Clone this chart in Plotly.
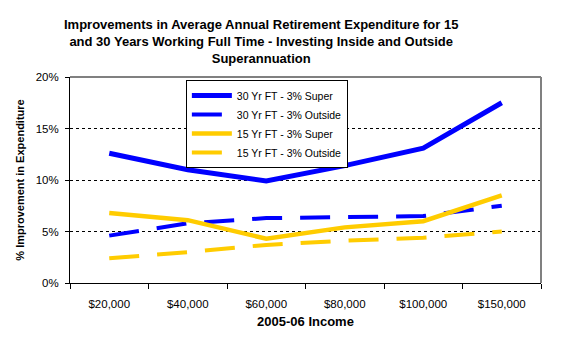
import plotly.graph_objects as go

categories = ["$20,000", "$40,000", "$60,000", "$80,000", "$100,000", "$150,000"]
yr30_super = [12.6, 11.0, 9.9, 11.4, 13.1, 17.5]
yr30_outside = [4.6, 5.8, 6.3, 6.4, 6.5, 7.5]
yr15_super = [6.8, 6.1, 4.3, 5.4, 6.0, 8.5]
yr15_outside = [2.4, 3.0, 3.7, 4.1, 4.4, 5.0]
y_ticks = [0, 5, 10, 15, 20]
y_tick_labels = ["0%", "5%", "10%", "15%", "20%"]

BLUE = "#0000FF"
GOLD = "#FFCC00"
FONT = "Liberation Sans, Arial, sans-serif"

fig = go.Figure()
fig.add_trace(go.Scatter(x=categories, y=yr30_super, mode="lines", name="30 Yr FT - 3% Super",
                         line=dict(color=BLUE, width=5)))
fig.add_trace(go.Scatter(x=categories, y=yr30_outside, mode="lines", name="30 Yr FT - 3% Outside",
                         line=dict(color=BLUE, width=4, dash="30px,18px")))
fig.add_trace(go.Scatter(x=categories, y=yr15_super, mode="lines", name="15 Yr FT - 3% Super",
                         line=dict(color=GOLD, width=4.5)))
fig.add_trace(go.Scatter(x=categories, y=yr15_outside, mode="lines", name="15 Yr FT - 3% Outside",
                         line=dict(color=GOLD, width=4, dash="30px,18px")))

# page body has an 8px default margin, so the figure is sized to fit inside it
fig.update_layout(
    width=569, height=348,
    margin=dict(l=58, r=36, t=69, b=73),
    paper_bgcolor="white", plot_bgcolor="white",
    font=dict(family=FONT, size=11, color="black"),
    showlegend=True,
    title=dict(
        text="<b>Improvements in Average Annual Retirement Expenditure for 15<br>and 30 Years Working Full Time - Investing Inside and Outside<br>Superannuation</b>",
        x=0.445, xanchor="center", y=0.94, yanchor="top",
        font=dict(family=FONT, size=13, color="black"),
    ),
    legend=dict(
        x=0.246, y=0.985, xanchor="left", yanchor="top",
        bgcolor="white", bordercolor="black", borderwidth=1,
        font=dict(family=FONT, size=10.5, color="black"),
        tracegroupgap=0, itemwidth=40,
    ),
    xaxis=dict(
        type="category", range=[-0.5, 5.5],
        showline=True, linecolor="black", linewidth=1, mirror=False,
        ticks="outside", ticklen=5, tickcolor="black", tickson="boundaries",
        ticklabelstandoff=10,
        showgrid=False,
        title=dict(text="<b>2005-06 Income</b>", font=dict(family=FONT, size=13), standoff=8),
        tickfont=dict(family=FONT, size=11.5),
    ),
    yaxis=dict(
        range=[0, 20], tickvals=y_ticks, ticktext=y_tick_labels,
        showline=True, linecolor="black", linewidth=1,
        ticks="outside", ticklen=4, tickcolor="black",
        ticklabelstandoff=4,
        showgrid=True, gridcolor="black", griddash="dot", gridwidth=1,
        zeroline=False,
        title=dict(text="<b>% Improvement in Expenditure</b>", font=dict(family=FONT, size=11), standoff=8),
        tickfont=dict(family=FONT, size=11.5),
    ),
    shapes=[
        dict(type="line", xref="paper", yref="paper", x0=0, x1=1, y0=1, y1=1,
             line=dict(color="#808080", width=2)),
        dict(type="line", xref="paper", yref="paper", x0=1, x1=1, y0=0, y1=1,
             line=dict(color="#808080", width=2)),
    ],
)

fig.write_html("out.html")
